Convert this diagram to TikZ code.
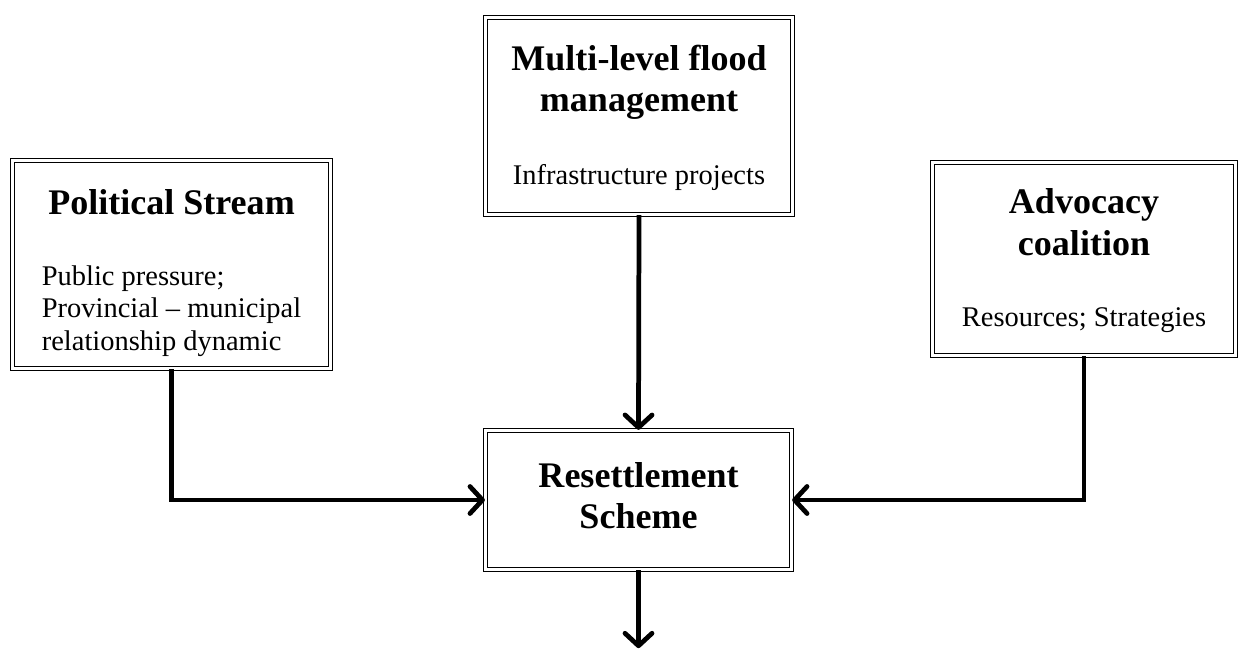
\documentclass[tikz,border=0pt]{standalone}
\usepackage{fontspec}
\setmainfont{Liberation Serif}
\usetikzlibrary{arrows.meta}

\newcommand{\boxtitle}{\fontsize{20.5}{23.5}\selectfont\bfseries}
\newcommand{\boxbody}{\fontsize{16.2}{18.5}\selectfont}

\begin{document}
\begin{tikzpicture}[
            every node/.style={draw, double, line width=0.75pt, double distance=1.3pt,
              rectangle, align=center, inner sep=0pt},
            flow/.style={line width=2.7pt, -{Straight Barb[length=2.5mm,width=5.4mm,line cap=round,line join=round]}}
        ]
        \useasboundingbox (0,0) rectangle (24.78,-13.06);

        \node[minimum width=6.36cm, minimum height=4.16cm] (pol) at (3.43,-5.29)
        {{\boxtitle\rule{0pt}{26pt}Political Stream}\\[26pt]
        {\boxbody\begin{tabular}{@{}l@{}}Public pressure;\\ Provincial -- municipal\\ relationship dynamic\end{tabular}}};
        \node[minimum width=6.14cm, minimum height=3.94cm] (flood) at (12.78,-2.32)
        {{\boxtitle\begin{tabular}{@{}c@{}}Multi-level flood\\ management\end{tabular}}\\[22pt]
        {\boxbody Infrastructure projects}};
        \node[minimum width=6.06cm, minimum height=3.86cm] (adv) at (21.68,-5.18)
        {{\boxtitle\begin{tabular}{@{}c@{}}Advocacy\\ coalition\end{tabular}}\\[22pt]
        {\boxbody Resources; Strategies}};
        % Centre
        \node[minimum width=6.12cm, minimum height=2.78cm] (res) at (12.77,-10.0)
        {{\boxtitle\begin{tabular}{@{}c@{}}Resettlement\\ Scheme\end{tabular}}};
        \coordinate (out) at ([yshift=-1.56cm]res.south);

        \draw[flow] (flood.south) -- (res.north);
        \draw[flow] (pol.south) |- (res.west);
        \draw[flow] (adv.south) |- (res.east);
        \draw[flow] (res.south) -- (out);

        \end{tikzpicture}
\end{document}
